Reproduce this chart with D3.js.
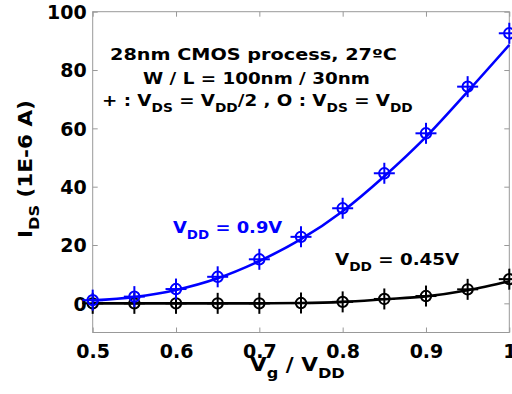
<!DOCTYPE html>
<html><head><meta charset="utf-8">
<script src="https://cdn.jsdelivr.net/npm/d3@7"></script>
<style>
body{margin:0;background:#fff;}
text{font-family:"DejaVu Sans",sans-serif;font-weight:bold;}
</style></head>
<body><svg id="c" width="512" height="394"></svg>
<script>
const vg = [0.5,0.55,0.6,0.65,0.7,0.75,0.8,0.85,0.9,0.95,1.0];
const blueMarkers = [1.1,2.3,4.9,9.1,15.1,22.8,32.6,44.6,58.3,74.3,92.6];
const blueLine = [1.0,2.2,4.6,8.6,14.5,22.0,31.6,43.6,57.1,72.6,88.6];
const blackMarkers = [0,0,0,0,0,0.1,0.5,1.5,2.5,4.8,8.3];
const blackLine = [0,0,0,0,0,0.1,0.5,1.4,2.4,4.5,7.6];
const xTicks = [0.5,0.6,0.7,0.8,0.9,1.0];
const xTickLabels = ["0.5","0.6","0.7","0.8","0.9","1"];
const yTicks = [0,20,40,60,80,100];

const svg = d3.select("#c");
const L=92.7,R=509.3,T=11.7,B=332.5;
const x = d3.scaleLinear().domain([0.5,1.0]).range([L,R]);
const y = d3.scaleLinear().domain([-10,100]).range([B,T]);
const grey="#999";
const FF='"DejaVu Sans",sans-serif';

svg.append("rect").attr("x",L).attr("y",T).attr("width",R-L).attr("height",B-T)
  .attr("fill","none").attr("stroke",grey).attr("stroke-width",1);

const fmtX = d=>xTickLabels[xTicks.indexOf(d)];
const axB = svg.append("g").attr("transform",`translate(0,${B})`)
  .call(d3.axisBottom(x).tickValues(xTicks).tickSizeInner(-5).tickSizeOuter(0).tickPadding(12).tickFormat(fmtX));
const axT = svg.append("g").attr("transform",`translate(0,${T})`)
  .call(d3.axisTop(x).tickValues(xTicks).tickSizeInner(-5).tickSizeOuter(0).tickFormat(""));
const axL = svg.append("g").attr("transform",`translate(${L},0)`)
  .call(d3.axisLeft(y).tickValues(yTicks).tickSizeInner(-5).tickSizeOuter(0).tickPadding(6).tickFormat(d3.format("d")));
const axR = svg.append("g").attr("transform",`translate(${R},0)`)
  .call(d3.axisRight(y).tickValues(yTicks).tickSizeInner(-5).tickSizeOuter(0).tickFormat(""));
[axB,axT,axL,axR].forEach(a=>{
  a.select(".domain").remove();
  a.selectAll("line").attr("stroke",grey);
  a.selectAll("text").attr("fill","#000").attr("font-size","19px").attr("font-weight","bold")
   .attr("font-family",FF);
});
axB.selectAll("text").attr("dy","0.71em");
axL.selectAll("text").attr("dy","0.36em");

function series(lineVals, markVals, color){
  const line = d3.line().curve(d3.curveMonotoneX).x((d,i)=>x(vg[i])).y(d=>y(d));
  svg.append("path").datum(lineVals).attr("d",line).attr("fill","none")
    .attr("stroke",color).attr("stroke-width",2.6);
  const m = svg.append("g").selectAll("g").data(markVals).join("g")
    .attr("transform",(d,i)=>`translate(${x(vg[i])},${y(d)})`);
  m.append("circle").attr("r",5.2).attr("fill","none").attr("stroke",color).attr("stroke-width",2);
  m.append("line").attr("x1",-10.5).attr("x2",10.5).attr("stroke",color).attr("stroke-width",2);
  m.append("line").attr("y1",-10.5).attr("y2",10.5).attr("stroke",color).attr("stroke-width",2);
}
series(blackLine, blackMarkers, "#000");
series(blueLine, blueMarkers, "#0000ff");

// text placed with left edge at x0, baseline y0, stretched to width w
function rich(parent, parts, x0, y0, w, size, fill, sh, rot){
  sh = sh||6;
  const g = parent.append("g");
  const t = g.append("text").attr("x",0).attr("y",0).attr("font-size",size).attr("fill",fill||"#000");
  let sub=false;
  parts.forEach(p=>{
    const s = t.append("tspan").text(p[0]);
    if(p[1]==="sub"){ s.attr("dy",sub?0:sh).style("font-size","0.75em"); sub=true; }
    else { if(sub){ s.attr("dy",-sh); sub=false; } }
  });
  const bw = t.node().getBBox().width;
  const s = w/bw;
  g.attr("transform",`translate(${x0},${y0})${rot?" rotate(-90)":""} scale(${s},1)`);
  return g;
}
rich(svg,[["28nm CMOS process, 27ºC"]],110,60,287,"16px");
rich(svg,[["W / L = 100nm / 30nm"]],143,84,227,"16px");
rich(svg,[["+ : V"],["DS","sub"],[" = V"],["DD","sub"],["/2 , O : V"],["DS","sub"],[" = V"],["DD","sub"]],102,106,311,"16px");
rich(svg,[["V"],["DD","sub"],[" = 0.9V"]],173,233,110,"16px","#0000ff");
rich(svg,[["V"],["DD","sub"],[" = 0.45V"]],335,265,125,"16px","#000");

rich(svg,[["V"],["g","sub"],[" / V"],["DD","sub"]],250,371,95,"19px","#000",7);
rich(svg,[["I"],["DS","sub"],[" (1E-6 A)"]],32,238,138,"19px","#000",7,true);
</script></body></html>
